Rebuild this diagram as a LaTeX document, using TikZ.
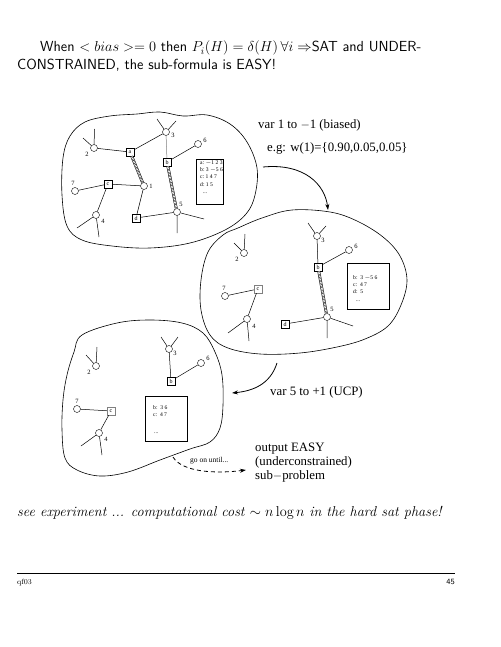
\documentclass[tikz,border=0pt]{standalone}
\usepackage{fontspec}
\usetikzlibrary{arrows.meta}
\newfontfamily\tms{Liberation Serif}
\begin{document}
\begin{tikzpicture}[x=1pt,y=-1pt,
  vc/.style={circle,draw,fill=white,inner sep=0pt,minimum size=7pt},
  cl/.style={rectangle,draw,fill=white,inner sep=0pt,minimum size=8pt,font=\tms\fontsize{6}{6}\selectfont},
  clg/.style={cl,draw=gray},
  lab/.style={font=\tms\fontsize{6.5}{6.5}\selectfont,inner sep=0pt},
  edge/.style={line width=0.5pt},
  dbl/.style={line width=0.5pt,double,double distance=1.8pt,
     postaction={draw,line width=1.8pt,dash pattern=on 0.4pt off 1.1pt}},
  blob/.style={line width=0.6pt},
  boxtxt/.style={font=\tms\fontsize{5.6}{7.2}\selectfont,align=left,anchor=north west,inner sep=0pt},
  txt/.style={font=\tms\fontsize{12.8}{13}\selectfont,anchor=base west,inner sep=0pt},
  arr/.style={line width=0.8pt,-{Stealth[length=6pt,width=4pt]}}
]
\useasboundingbox (0,0) rectangle (500,647);
% title
\node[anchor=base west,inner sep=0pt,font=\sffamily\fontsize{14.6}{18}\selectfont] (t1) at (40,52)
  {When $<bias>=0$ then $P_i(H)=\delta(H)\,\forall i\Rightarrow$SAT and UNDER-};
\node[anchor=base west,inner sep=0pt,font=\sffamily\fontsize{14.6}{18}\selectfont] (t2) at (17,70)
  {CONSTRAINED, the sub-formula is EASY!};

% ---------- blob 1 ----------
\draw[blob] plot[smooth cycle,tension=0.6] coordinates {(85,122) (110,116) (137,114) (160,112) (183,116) (207,115) (230,124) (247,142) (257,168) (255,195) (246,214) (225,230) (190,243) (150,248) (112,246) (82,240) (67,226) (62,195) (63,158) (70,136)};
\node[vc] (p2) at (94,148) {};
\node[cl] (pa) at (130,152) {a};
\node[vc] (p3) at (166,132) {};
\node[cl] (pb) at (167,162) {b};
\node[vc] (p6) at (198,144) {};
\node[vc] (p1) at (144,186) {};
\node[cl] (pc) at (108,184) {c};
\node[vc] (p7) at (75,191) {};
\node[vc] (p4) at (96,215) {};
\node[cl] (pd) at (136,218) {d};
\node[vc] (p5) at (177,212) {};
\draw[edge] (p2) -- +(0.5,-19) (p2) -- +(-11,-10);
\draw[edge] (p3) -- +(-9,-13) (p3) -- +(10,-11);
\draw[edge] (p4) -- +(-19,13) (p4) -- +(3,22);
\draw[edge] (p5) -- +(27,7) (p5) -- +(0,21);
\draw[edge] (p2) -- (pa); \draw[edge] (pa) -- (p3);
\draw[edge,gray] (p3) -- (pb); \draw[edge] (pb) -- (p6);
\draw[edge] (p7) -- (pc); \draw[edge] (pc) -- (p1); \draw[edge] (pc) -- (p4);
\draw[edge] (p1) -- (pd); \draw[edge] (pd) -- (p5);
\draw[dbl] (pa) -- (p1); \draw[dbl] (pb) -- (p5);
\node[lab] (l2) at (87,154) {2};
\node[lab] (l3) at (173,135) {3};
\node[lab] (l6) at (205,140) {6};
\node[lab] (l1) at (151,186) {1};
\node[lab] (l7) at (73,183) {7};
\node[lab] (l4) at (103,221) {4};
\node[lab] (l5) at (181,204) {5};
\draw[line width=0.5pt] (196,159) rectangle (223,204);
\node[boxtxt] (bx1) at (200,160.5) {a:\ $-$1 2 3\\b:\ 3 $-$5 6\\c:\ 1 4 7\\d:\ 1 5\\[0.5pt]\ \ ...};

% ---------- blob 2 ----------
\draw[blob] plot[smooth cycle,tension=0.6] coordinates {(223,235) (208,252) (201,280) (201,310) (210,335) (228,348) (260,354) (300,353) (337,347) (365,339) (388,326) (401,305) (407,280) (400,256) (383,237) (357,221) (330,212) (292,210) (262,218) (238,228)};
\node[vc] (q2) at (244,253) {};
\node[vc] (q3) at (317,236) {};
\node[cl] (qb) at (318,267) {b};
\node[vc] (q6) at (349,250) {};
\node[vc] (q5) at (327,317) {};
\node[cl] (qd) at (285,324) {d};
\node[clg] (qc) at (258,289) {c};
\node[vc] (q7) at (225,296) {};
\node[vc] (q4) at (247,319) {};
\draw[edge] (q2) -- +(1,-19) (q2) -- +(-10,-10);
\draw[edge] (q3) -- +(-9,-13) (q3) -- +(9,-10);
\draw[edge] (q5) -- +(26,9) (q5) -- +(0,21);
\draw[edge] (q4) -- +(-19,14) (q4) -- +(2,22);
\draw[edge] (q3) -- (qb); \draw[edge] (qb) -- (q6);
\draw[edge] (qd) -- (q5);
\draw[edge] (q7) -- (qc); \draw[edge] (qc) -- (q4);
\draw[dbl] (qb) -- (q5);
\node[lab] (m2) at (237,259) {2};
\node[lab] (m3) at (323,240) {3};
\node[lab] (m6) at (356,246) {6};
\node[lab] (m5) at (332,309) {5};
\node[lab] (m7) at (224,288) {7};
\node[lab] (m4) at (254,326) {4};
\draw[line width=0.5pt] (347,263) rectangle (389,309);
\node[boxtxt] (bx2) at (353,275) {b:\ \ 3 $-$5 6\\c:\ \ 4 7\\d:\ \ 5\\[1pt]\ \ ...};

% ---------- blob 3 ----------
\draw[blob] plot[smooth cycle,tension=0.6] coordinates {(82,335) (117,323) (150,320) (182,323) (203,333) (215,352) (222,375) (223,405) (220,428) (210,442) (190,449) (160,460) (128,472) (100,476) (77,470) (65,458) (62,430) (63,400) (67,375) (74,352)};
\node[vc] (r2) at (96,366) {};
\node[vc] (r3) at (169,349) {};
\node[cl] (rb) at (171,381) {b};
\node[vc] (r6) at (201,363) {};
\node[clg] (rc) at (111,411) {c};
\node[vc] (r7) at (77,409) {};
\node[vc] (r4) at (99,433) {};
\draw[edge] (r2) -- +(1,-19) (r2) -- +(-10,-11);
\draw[edge] (r3) -- +(-8,-12) (r3) -- +(9,-12);
\draw[edge] (r4) -- +(-18,13) (r4) -- +(3,22);
\draw[edge] (r3) -- (rb); \draw[edge] (rb) -- (r6);
\draw[edge] (r7) -- (rc); \draw[edge] (rc) -- (r4);
\node[lab] (n2) at (89,372) {2};
\node[lab] (n3) at (175,353) {3};
\node[lab] (n6) at (208,358) {6};
\node[lab] (n7) at (77,401) {7};
\node[lab] (n4) at (106,439) {4};
\draw[line width=0.5pt] (145,396) rectangle (187,441);
\node[boxtxt] (bx3) at (153,405) {b:\ \ 3 6\\c:\ \ 4 7};
\node[boxtxt] (bx3b) at (154,433) {...};

% ---------- arrows and texts ----------
\node[txt] (v1) at (258,129) {var 1 to $-$1 (biased)};
\node[txt] (eg) at (267,152) {e.g: w(1)=\{0.90,0.05,0.05\}};
\coordinate (a1s) at (263,167);
\coordinate (a1e) at (328,210);
\draw[arr] (a1s) .. controls (305,163) and (325,185) .. (a1e);
\node[txt] (v5) at (270,395) {var 5 to +1 (UCP)};
\coordinate (a2s) at (277,363);
\coordinate (a2e) at (232,393);
\draw[arr] (a2s) .. controls (270,385) and (252,391) .. (a2e);
\node[txt] (o1) at (255,451) {output EASY};
\node[txt] (o2) at (255,465) {(underconstrained)};
\node[txt] (o3) at (255,479) {sub$-$problem};
\node[anchor=base west,inner sep=0pt,font=\tms\fontsize{7.5}{8}\selectfont] (go) at (190,462) {go on until...};
\coordinate (a3s) at (173,457);
\coordinate (a3e) at (246,470);
\draw[arr,dashed,dash pattern=on 4pt off 3pt] (a3s) .. controls (182,472) and (215,474) .. (a3e);

% bottom text
\node[anchor=base west,inner sep=0pt,font=\fontsize{14.3}{16}\selectfont] (bt) at (17,516)
  {\textit{see experiment ... computational cost} $\sim n\log n$ \textit{in the hard sat phase!}};
\coordinate (rl) at (17,573);
\coordinate (rr) at (455,573);
\draw[line width=0.8pt] (rl) -- (rr);
\node[anchor=base west,inner sep=0pt,font=\fontsize{7.5}{8}\selectfont] (f1) at (17,584) {qf03};
\node[anchor=base east,inner sep=0pt,font=\sffamily\fontsize{8}{9}\selectfont] (f2) at (455,584) {45};
\end{tikzpicture}
\end{document}
